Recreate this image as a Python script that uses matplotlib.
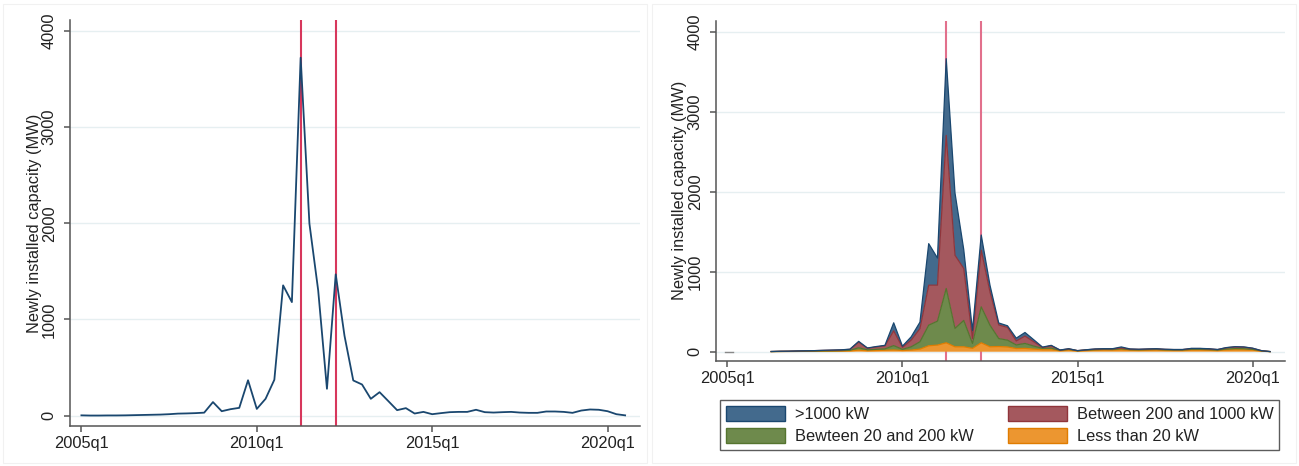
import numpy as np
import matplotlib
matplotlib.use('Agg')
import matplotlib.pyplot as plt
from matplotlib.patches import Patch, Rectangle

plt.rcParams['font.family'] = ['Liberation Sans', 'DejaVu Sans']
plt.rcParams['font.size'] = 11.8

nan = np.nan

# quarters 2005q1 .. 2020q3
quarters = [f'{y}q{q}' for y in range(2005, 2021) for q in range(1, 5)][:63]

# newly installed capacity, all sizes (MW)
total = [2, 0, 0, 1, 1, 2, 4, 6, 8, 10, 14, 20, 22, 25, 30,
         140, 45, 66, 80, 367, 69, 174, 372, 1354, 1180, 3722, 1997, 1302, 278, 1469,
         830, 365, 323, 174, 243, 150, 56, 77, 21, 38, 14, 25, 35, 38, 38,
         60, 35, 31, 35, 38, 31, 28, 28, 42, 42, 38, 28, 52, 63, 60,
         45, 14, 2]

# by size class (MW), no data for 2005q2-2006q1
lt20 = [0, nan, nan, nan, nan, 1, 2, 3, 4, 5, 5, 6, 7, 8, 10,
        20, 12, 15, 18, 22, 15, 20, 33, 75, 83, 112, 62, 62, 42, 112,
        62, 65, 60, 40, 42, 33, 25, 25, 12, 20, 8, 14, 18, 20, 20,
        25, 18, 16, 18, 20, 16, 15, 15, 20, 20, 18, 14, 22, 25, 24,
        20, 7, 1]
b20_200 = [0, nan, nan, nan, nan, 1, 2, 2, 3, 3, 4, 5, 5, 6, 8,
           30, 12, 15, 18, 55, 15, 42, 92, 258, 300, 680, 230, 330, 62, 450,
           270, 100, 85, 45, 62, 38, 18, 20, 5, 10, 4, 6, 8, 9, 8,
           12, 8, 8, 9, 9, 8, 7, 7, 10, 10, 9, 7, 12, 14, 14,
           10, 4, 1]
b200_1000 = [0, nan, nan, nan, nan, 1, 2, 2, 3, 4, 5, 6, 8, 9, 12,
             70, 20, 30, 38, 185, 25, 84, 165, 500, 450, 1916, 916, 650, 63, 709,
             417, 170, 160, 50, 92, 54, 10, 30, 3, 6, 2, 4, 7, 7, 8,
             10, 7, 6, 7, 8, 6, 5, 5, 10, 10, 9, 6, 16, 22, 20,
             13, 3, 0]
gt1000 = [0, nan, nan, nan, nan, 0, 0, 0, 0, 0, 0, 1, 1, 1, 2,
          10, 3, 5, 6, 100, 15, 41, 80, 520, 340, 960, 780, 238, 100, 190,
          83, 25, 20, 35, 45, 25, 5, 5, 2, 2, 0, 1, 2, 2, 2,
          13, 2, 1, 1, 1, 1, 1, 1, 2, 2, 2, 1, 2, 2, 2,
          2, 0, 0]

xtick_labels = ['2005q1', '2010q1', '2015q1', '2020q1']
yticks = [0, 1000, 2000, 3000, 4000]
events = ['2011q2', '2012q2']
ylab = 'Newly installed capacity (MW)'

layer_names = ['Less than 20 kW', 'Bewteen 20 and 200 kW',
               'Between 200 and 1000 kW', '>1000 kW']
fills = ['#ec9630', '#6e8a4c', '#a4585e', '#436a8d']
edges = ['#e07c00', '#55752f', '#90353b', '#1a476f']

x = np.arange(len(quarters))
xt = [quarters.index(l) for l in xtick_labels]
ev = [quarters.index(e) for e in events]


def style(ax, ylim, labx):
    ax.set_xlim(-1.3, 63.7)
    ax.set_ylim(*ylim)
    ax.set_xticks(xt)
    ax.set_xticklabels(xtick_labels)
    ax.set_yticks(yticks)
    ax.set_yticklabels([str(v) for v in yticks], rotation=90, va='center')
    for s in ['top', 'right']:
        ax.spines[s].set_visible(False)
    for s in ['left', 'bottom']:
        ax.spines[s].set_color('#555555')
        ax.spines[s].set_linewidth(1.1)
    ax.tick_params(length=4.5, width=1.1, color='#555555', labelcolor='#222222')
    ax.tick_params(axis='x', pad=3)
    ax.tick_params(axis='y', pad=5)
    ax.grid(axis='y', color='#e6eff1', lw=1.0)
    ax.set_axisbelow(True)
    ax.set_ylabel(ylab, color='#222222', va='center')
    ax.yaxis.set_label_coords(labx, 0.5)


fig = plt.figure(figsize=(12.99, 4.66), dpi=100)

# faint panel frames
fig.patches.append(Rectangle((0.002, 0.006), 0.496, 0.986, transform=fig.transFigure,
                             fill=False, ec='#f1f1f1', lw=0.8))
fig.patches.append(Rectangle((0.502, 0.006), 0.496, 0.986, transform=fig.transFigure,
                             fill=False, ec='#f1f1f1', lw=0.8))

# left: total
ax1 = fig.add_axes([0.0539, 0.0858, 0.4388, 0.8712])
ax1.plot(x, total, color='#1a476f', lw=1.3, zorder=3)
for e in ev:
    ax1.axvline(e, color='#d7375c', lw=1.5, zorder=2)
style(ax1, (-109, 4114), -0.062)

# right: stacked by size
ax2 = fig.add_axes([0.5512, 0.226, 0.438, 0.730])
for e in ev:
    ax2.axvline(e, color='#e2708c', lw=1.5, zorder=1)
layers = [lt20, b20_200, b200_1000, gt1000]
base = np.zeros(len(x))
for vals, fc, ec in zip(layers, fills, edges):
    top = base + np.array(vals, dtype=float)
    ax2.fill_between(x, base, top, color=fc, lw=0, zorder=2)
    ax2.plot(x, top, color=ec, lw=0.9, zorder=3)
    base = top
ax2.plot([-0.3, 0.6], [0, 0], color='#888888', lw=1.0, zorder=3)
style(ax2, (-112, 4146), -0.065)

# legend: rows (>1000, 200-1000), (20-200, <20)
order = [3, 1, 2, 0]
handles = [Patch(facecolor=fills[i], edgecolor=edges[i], lw=1.0) for i in order]
labels = [layer_names[i] for i in order]
leg = fig.legend(handles, labels, ncol=2, mode='expand', loc='center',
                 bbox_to_anchor=(720 / 1299, 1 - 452 / 466, 559 / 1299, 54 / 466),
                 bbox_transform=fig.transFigure, frameon=True, fancybox=False,
                 edgecolor='#333333', handlelength=3.6, handleheight=1.05,
                 handletextpad=0.6, labelspacing=0.35, borderpad=0.35,
                 borderaxespad=0, columnspacing=1.0)
leg.get_frame().set_linewidth(1.0)
for t in leg.get_texts():
    t.set_color('#222222')

fig.savefig('out.png', dpi=100)
